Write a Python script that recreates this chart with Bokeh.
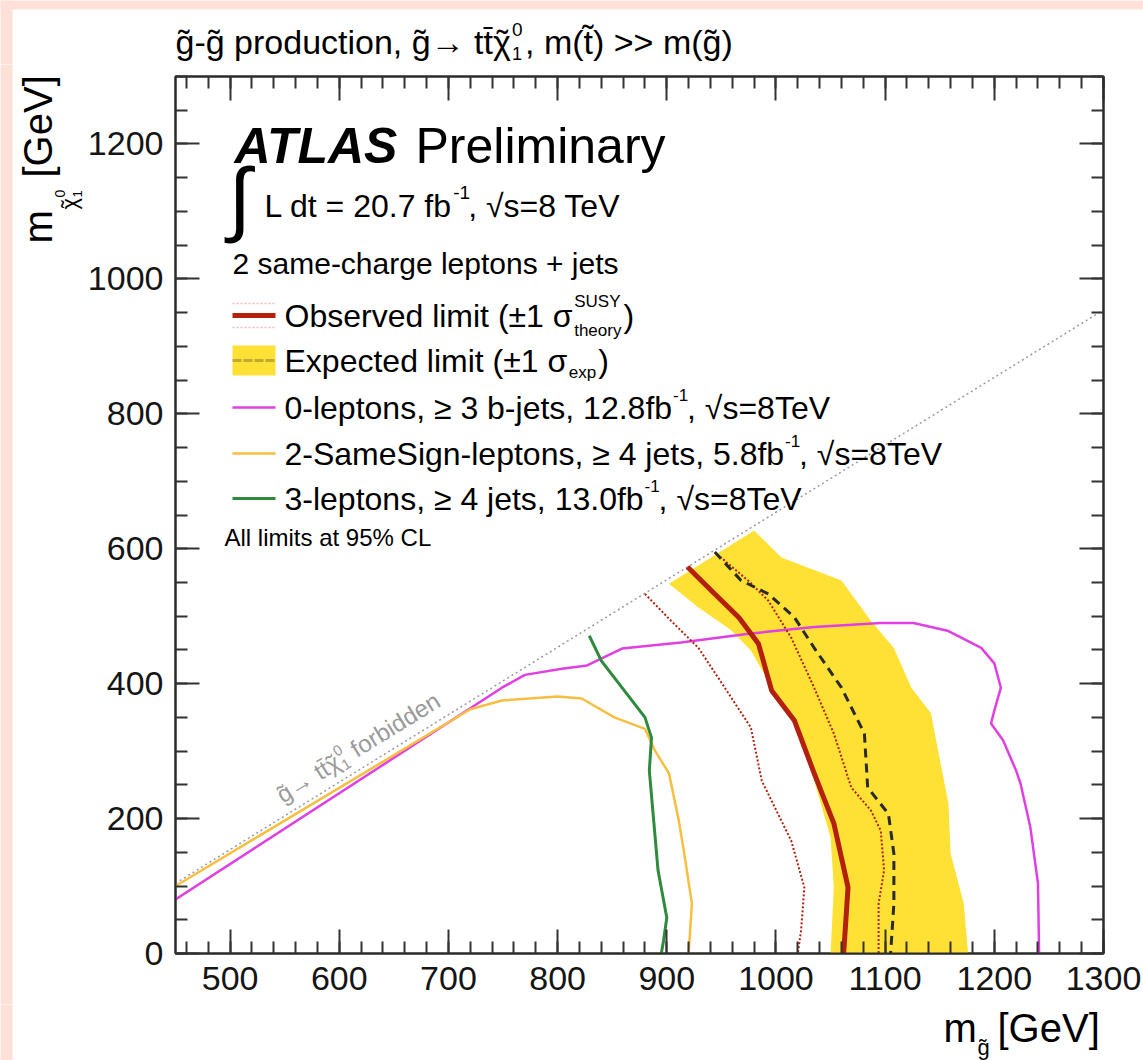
import math
from bokeh.plotting import figure
from bokeh.layouts import column, row
from bokeh.models import (Label, BoxAnnotation, SingleIntervalTicker, LinearAxis,
                          Range1d, CustomJSTickFormatter)
from bokeh.embed import file_html
from bokeh.resources import INLINE

# ---------------- data ----------------
band_right_x = [902, 980, 1005, 1060, 1087, 1108, 1124, 1142, 1148, 1158, 1160, 1172, 1176]
band_right_y = [548, 627, 587, 553, 493, 453, 394, 356, 305, 222, 148, 74, 0]
band_left_x = [1050, 1053, 1050, 1035, 1017, 993, 977, 959, 929, 902]
band_left_y = [0, 98, 172, 256, 345, 404, 449, 479, 513, 548]

diag_x = [450, 1300]
diag_y = [104, 954]

mag_x = [450, 749, 770, 804, 827, 859, 913, 975, 1035, 1096, 1126, 1158, 1188, 1200,
         1206, 1200, 1197, 1208, 1220, 1224, 1233, 1240, 1241]
mag_y = [80, 394, 413, 422, 427, 452, 461, 474, 484, 490, 490, 478, 453, 430,
         394, 360, 341, 316, 271, 252, 187, 104, 0]

ss_x = [450, 720, 749, 800, 822, 852, 880, 889, 902, 911, 916, 923, 920]
ss_y = [100, 362, 375, 381, 378, 350, 333, 301, 267, 197, 148, 74, 0]

tl_x = [829, 840, 859, 880, 886, 884, 888, 892, 900, 897, 895]
tl_y = [471, 434, 394, 350, 320, 271, 197, 123, 53, 19, 0]

obs_x = [919, 944, 966, 984, 996, 1017, 1035, 1053, 1066, 1062]
obs_y = [573, 533, 498, 459, 390, 345, 267, 193, 98, 0]

obs_dn_x = [880, 904, 929, 947, 977, 987, 1014, 1026, 1023, 1020]
obs_dn_y = [533, 493, 453, 409, 335, 256, 167, 98, 34, 0]

obs_up_x = [946, 975, 993, 1014, 1035, 1053, 1069, 1087, 1096, 1099, 1094, 1094]
obs_up_y = [592, 552, 523, 468, 394, 326, 246, 212, 182, 123, 74, 0]

exp_x = [944, 968, 993, 1017, 1035, 1060, 1081, 1084, 1103, 1108, 1108, 1105]
exp_y = [595, 553, 533, 498, 453, 394, 326, 246, 207, 148, 74, 0]

x_ticks_interval = 100
y_ticks_interval = 200

# ---------------- styles / page layout ----------------
FONT = "Liberation Sans"
W, H = 1143, 1060
FL, FT, FR, FB = 173, 76, 1103, 953          # plot frame on the page
TOPH = 64                                      # title strip height
LW = 84                                        # y-title strip width
BOT = 1004                                     # page y where x-title strip starts
PINK = "#FDE1D9"
YELLOW = "#FFE135"
MAGENTA = "#E040E2"
ORANGE = "#F8BE40"
GREEN = "#2E8B3C"
RED = "#B3200C"
DARK = "#2A2A2A"
TILDE = "\u02dc"


def no_align(f):
    if "frame_align" in f.properties():
        f.frame_align = False


main = figure(width=W - LW, height=BOT - TOPH, x_range=Range1d(450, 1300),
              y_range=Range1d(0, 1300), output_backend="svg", toolbar_location=None,
              min_border_left=FL - LW, min_border_right=W - FR,
              min_border_top=FT - TOPH, min_border_bottom=BOT - FB,
              background_fill_color="white", border_fill_color="white",
              outline_line_color=DARK, outline_line_width=2)
main.title.visible = False
main.grid.visible = False
no_align(main)

xt = SingleIntervalTicker(interval=x_ticks_interval, num_minor_ticks=5)
yt = SingleIntervalTicker(interval=y_ticks_interval, num_minor_ticks=4)


def style_axis(ax):
    ax.axis_line_color = DARK
    ax.axis_line_width = 2
    ax.major_tick_in = 24
    ax.major_tick_out = 0
    ax.minor_tick_in = 12
    ax.minor_tick_out = 0
    ax.major_tick_line_color = "#333333"
    ax.minor_tick_line_color = "#333333"
    ax.major_tick_line_width = 2
    ax.minor_tick_line_width = 2
    ax.major_label_text_font = FONT
    ax.major_label_text_font_size = "34px"
    ax.major_label_text_color = "#151515"


main.xaxis.ticker = xt
main.yaxis.ticker = yt
style_axis(main.xaxis[0])
style_axis(main.yaxis[0])
main.xaxis.major_label_standoff = 13
main.yaxis.major_label_standoff = 12

empty = CustomJSTickFormatter(code="return ''")
top_ax = LinearAxis(ticker=xt, formatter=empty)
right_ax = LinearAxis(ticker=yt, formatter=empty)
for ax in (top_ax, right_ax):
    style_axis(ax)
    ax.major_label_standoff = 0
    ax.major_label_text_font_size = "0px"
main.add_layout(top_ax, "above")
main.add_layout(right_ax, "right")

# ---------------- data marks ----------------
main.patch(band_right_x + band_left_x, band_right_y + band_left_y,
           fill_color=YELLOW, line_alpha=0)
main.line(diag_x, diag_y, line_color="#9A9A9A", line_width=1.5, line_dash="2 3")
main.line(mag_x, mag_y, line_color=MAGENTA, line_width=2.5, line_join="round")
main.line(ss_x, ss_y, line_color=ORANGE, line_width=2.5, line_join="round")
main.line(tl_x, tl_y, line_color=GREEN, line_width=3, line_join="round")
main.line(obs_dn_x, obs_dn_y, line_color=RED, line_width=2, line_dash="2 2")
main.line(obs_up_x, obs_up_y, line_color=RED, line_width=2, line_dash="2 2")
main.line(exp_x, exp_y, line_color=DARK, line_width=3, line_dash="9 6")
main.line(obs_x, obs_y, line_color=RED, line_width=5, line_join="round")

# ---------------- text helpers ----------------
AW = {' ': 278, '(': 333, ')': 333, '+': 584, ',': 278, '-': 333, '.': 278, '=': 584,
      '>': 584, '%': 889, '[': 278, ']': 278, '±': 584, 'σ': 571, 'χ': 500, '→': 1000,
      '≥': 549, '√': 549, 'A': 667, 'C': 722, 'E': 667, 'G': 778, 'L': 556, 'O': 778,
      'P': 667, 'S': 667, 'T': 611, 'U': 722, 'V': 667, 'Y': 667}
for ch in "0123456789":
    AW[ch] = 556
for ch, w in zip("abcdefghijklmnopqrstuvwxyz",
                 [556, 556, 500, 556, 556, 278, 556, 556, 222, 222, 500, 222, 833, 556,
                  556, 556, 556, 333, 500, 278, 556, 500, 722, 500, 500, 500]):
    AW[ch] = w


def width(s, size):
    return sum(AW.get(c, 0 if 0x300 <= ord(c) <= 0x36F else 556) for c in s) * size / 1000.0


def label(s, x, y, size, units, color="black", style="normal", align="left", angle=0.0):
    return Label(x=x, y=y, x_units=units, y_units=units, text=s, text_font=FONT,
                 text_font_size=f"{size}px", text_font_style=style, text_color=color,
                 text_align=align, text_baseline="middle", angle=angle)


def txt(s, px, py, size, **kw):
    """text inside the plot frame, placed by page pixel (py = vertical centre)"""
    main.add_layout(label(s, px - FL, FB - py, size, "screen", **kw))


def box(x0, x1, y0, y1, color):
    main.add_layout(BoxAnnotation(left=x0 - FL, right=x1 - FL, top=FB - y0, bottom=FB - y1,
                                  left_units="screen", right_units="screen",
                                  top_units="screen", bottom_units="screen",
                                  fill_color=color, fill_alpha=1, line_alpha=0,
                                  level="overlay"))


def hseg(x0, x1, py, color, lw, dash="solid"):
    main.add_layout(BoxAnnotation(left=x0 - FL, right=x1 - FL, top=FB - py + 0.01,
                                  bottom=FB - py, left_units="screen", right_units="screen",
                                  top_units="screen", bottom_units="screen",
                                  fill_alpha=0, line_color=color, line_width=lw,
                                  line_dash=dash, level="overlay"))


def strip_fig(x0, y0, w, h):
    """text strip around the frame, with page pixel coordinates as data coordinates"""
    f = figure(width=w, height=h, x_range=Range1d(x0, x0 + w), y_range=Range1d(y0 + h, y0),
               output_backend="svg", toolbar_location=None, min_border=0,
               x_axis_type=None, y_axis_type=None, background_fill_color="white",
               border_fill_color=PINK, outline_line_color=None)
    f.title.visible = False
    f.grid.visible = False
    no_align(f)
    f.add_layout(BoxAnnotation(left=x0 - 1, right=12, top=y0 - 1, bottom=y0 + h + 1,
                               fill_color=PINK, fill_alpha=1, line_alpha=0))
    return f


top_fig = strip_fig(0, 0, W, TOPH)
left_fig = strip_fig(0, TOPH, LW, BOT - TOPH)
bot_fig = strip_fig(0, BOT, W, H - BOT)
top_fig.add_layout(BoxAnnotation(left=-1, right=W + 1, top=-1, bottom=9,
                                 fill_color=PINK, fill_alpha=1, line_alpha=0))


def ftxt(f, s, px, py, size, **kw):
    f.add_layout(label(s, px, py, size, "data", **kw))


# ---------------- title ----------------
TS = 34
t1 = "g\u0303-g\u0303 production, g\u0303\u2192 tt\u0304"
x = 175
ftxt(top_fig, t1 + "\u03c7", x, 41, TS)
xc = x + width(t1, TS)
ftxt(top_fig, TILDE, xc + width("\u03c7", TS) / 2 + 1, 41, TS, align="center")
x = xc + width("\u03c7", TS) + 2
ftxt(top_fig, "0", x, 29, 19)
ftxt(top_fig, "1", x, 53, 18)
x += 13
ftxt(top_fig, ", m(t\u0303) >> m(g\u0303)", x, 41, TS)

# ---------------- axis titles ----------------
ftxt(bot_fig, "m", 943, 1027, 40)
ftxt(bot_fig, "g\u0303", 977, 1047, 22)
ftxt(bot_fig, "[GeV]", 997, 1027, 40)

A = math.pi / 2
ftxt(left_fig, "m", 37, 243, 40, angle=A)
ftxt(left_fig, "\u03c7", 69, 209, 22, angle=A)
ftxt(left_fig, TILDE, 69, 209 - width("\u03c7", 22) / 2, 22, angle=A, align="center")
ftxt(left_fig, "0", 59, 197, 14, angle=A)
ftxt(left_fig, "1", 77, 197, 13, angle=A)
ftxt(left_fig, "[GeV]", 37, 177, 40, angle=A)

# ---------------- ATLAS label block ----------------
txt("ATLAS", 232, 145, 50, style="bold italic")
txt("Preliminary", 413, 145, 50)
txt("\u222b", 226, 197, 82)
s = "L dt = 20.7 fb"
txt(s, 262, 205, 32)
xe = 262 + width(s, 32)
txt("-1", xe + 1, 192, 19)
txt(", \u221as=8 TeV", xe + 16, 205, 32)
txt("2 same-charge leptons + jets", 230, 263, 30)

# ---------------- legend ----------------
LX0, LX1, TX = 230, 273, 282
LS = 32
ys = [315, 360, 407, 453, 498]

# observed
hseg(LX0, LX1, ys[0] - 12, RED, 1.5, "2 2")
hseg(LX0, LX1, ys[0] + 12, RED, 1.5, "2 2")
box(LX0, LX1, ys[0] - 2.5, ys[0] + 2.5, RED)
s = "Observed limit (\u00b11 \u03c3"
txt(s, TX, ys[0], LS)
xe = TX + width(s, LS) + 2
txt("SUSY", xe, ys[0] - 14, 17)
txt("theory", xe, ys[0] + 15, 17)
txt(")", xe + width("theory", 17) + 2, ys[0], LS)

# expected
box(LX0, LX1, ys[1] - 15, ys[1] + 15, YELLOW)
hseg(LX0, LX1, ys[1], DARK, 3, "7 4")
s = "Expected limit (\u00b11 \u03c3"
txt(s, TX, ys[1], LS)
xe = TX + width(s, LS) + 2
txt("exp", xe, ys[1] + 12, 17)
txt(")", xe + width("exp", 17) + 2, ys[1], LS)

entries = [("0-leptons, \u2265 3 b-jets, 12.8fb", MAGENTA, 2.5),
           ("2-SameSign-leptons, \u2265 4 jets, 5.8fb", ORANGE, 2.5),
           ("3-leptons, \u2265 4 jets, 13.0fb", GREEN, 3)]
for (s, c, lw), yc in zip(entries, ys[2:]):
    box(LX0, LX1, yc - lw / 2, yc + lw / 2, c)
    txt(s, TX, yc, LS)
    xe = TX + width(s, LS)
    txt("-1", xe + 1, yc - 13, 17)
    txt(", \u221as=8TeV", xe + 15, yc, LS)

txt("All limits at 95% CL", 222, 537, 24)

# ---------------- diagonal label (rotated pieces) ----------------
ang = math.atan((877 / 1300) / (930 / 850))
ca, sa = math.cos(ang), math.sin(ang)
GX, GY, GS = 276, 796, 24
GREY = "#9A9A9A"


def along(d, u=0.0):
    """page position moved d px along the rotated text and u px towards glyph tops"""
    return GX + d * ca - u * sa, GY - d * sa - u * ca


g1 = "g\u0303\u2192 tt\u0304"
txt(g1 + "\u03c7", GX, GY, GS, color=GREY, angle=ang)
d = width(g1, GS)
px, py = along(d + width("\u03c7", GS) / 2)
txt(TILDE, px, py, GS, color=GREY, angle=ang, align="center")
d += width("\u03c7", GS) + 1
px, py = along(d, 8)
txt("0", px, py, 15, color=GREY, angle=ang)
px, py = along(d, -8)
txt("1", px, py, 15, color=GREY, angle=ang)
d += 10 + width(" ", GS)
px, py = along(d)
txt("forbidden", px, py, GS, color=GREY, angle=ang)

p = column(top_fig, row(left_fig, main, spacing=0), bot_fig, spacing=0)
open("out.html", "w").write(file_html(p, INLINE))
